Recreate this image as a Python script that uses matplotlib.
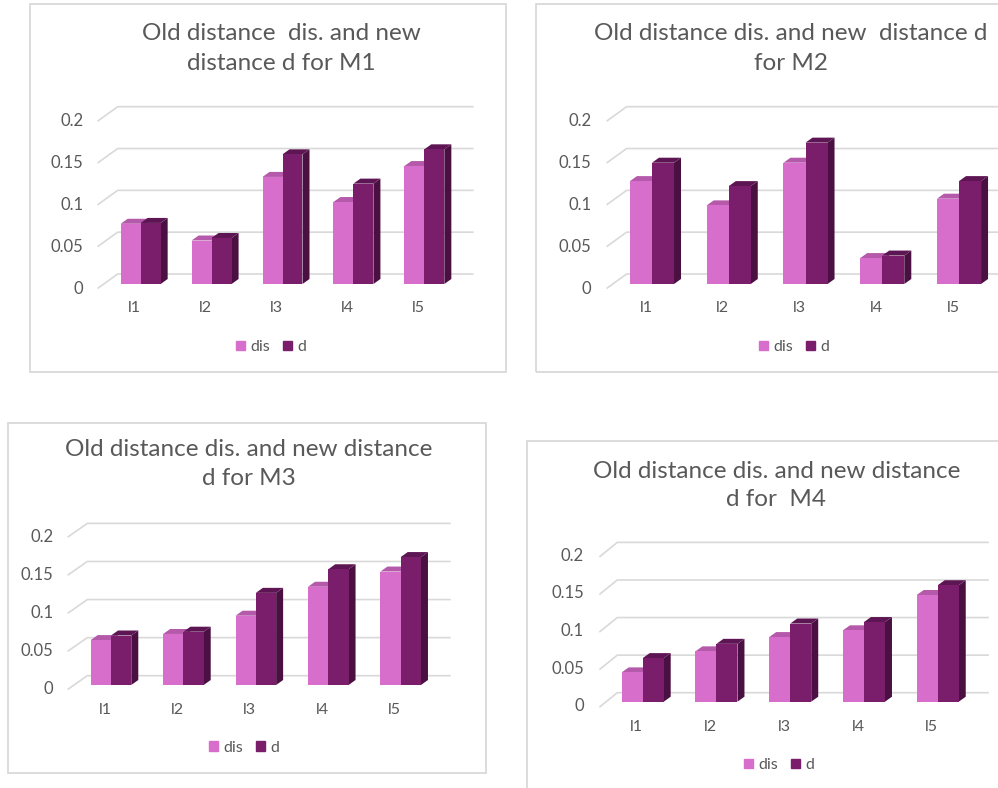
import matplotlib
matplotlib.use("Agg")
import matplotlib.pyplot as plt
from matplotlib.patches import Polygon, Rectangle
from matplotlib.transforms import ScaledTranslation
import numpy as np

plt.rcParams['font.family'] = ['Lato', 'DejaVu Sans']

# ---------------- data ----------------
categories = ['l1', 'l2', 'l3', 'l4', 'l5']
series_names = ['dis', 'd']
ytick_values = [0, 0.05, 0.1, 0.15, 0.2]
ytick_labels = ['0', '0.05', '0.1', '0.15', '0.2']

m1_dis = [0.072, 0.052, 0.128, 0.098, 0.141]
m1_d = [0.073, 0.055, 0.155, 0.120, 0.161]
m2_dis = [0.123, 0.094, 0.145, 0.031, 0.102]
m2_d = [0.145, 0.117, 0.169, 0.034, 0.123]
m3_dis = [0.059, 0.067, 0.091, 0.129, 0.149]
m3_d = [0.065, 0.070, 0.121, 0.152, 0.168]
m4_dis = [0.039, 0.067, 0.086, 0.095, 0.142]
m4_d = [0.058, 0.077, 0.104, 0.106, 0.155]

title_m1 = ['Old distance  dis. and new', 'distance d for M1']
title_m2 = ['Old distance dis. and new  distance d', 'for M2']
title_m3 = ['Old distance dis. and new distance', 'd for M3']
title_m4 = ['Old distance dis. and new distance', 'd for  M4']

# ---------------- style ----------------
W, H = 998, 788
TXT = '#595959'
GRID = '#d9d9d9'
DIS_COL = ('#D86ECC', '#B55AAB', '#9C4A92')   # front, top, side
D_COL = ('#7A1E6B', '#5E1553', '#4A1042')

fig = plt.figure(figsize=(W / 100, H / 100), dpi=100)
fig.patch.set_facecolor('white')


def fx(x):
    return x / W


def fy(y):
    return 1 - y / H


def panel_box(x0, y0, x1, y1):
    fig.add_artist(Rectangle((fx(x0), fy(y1)), (x1 - x0) / W, (y1 - y0) / H,
                             transform=fig.transFigure, fill=False,
                             edgecolor=GRID, lw=1.3))


def draw_panel(dis, d, title_lines, L):
    left, right, y0, hpx = L['ax']
    aw = right - left
    ax = fig.add_axes([fx(left), fy(y0), aw / W, hpx / H])
    ax.set_xlim(-0.5, len(categories) - 0.5)
    ax.set_ylim(0, 0.2)
    ax.patch.set_visible(False)
    for s in ax.spines.values():
        s.set_visible(False)

    # back wall grid + floor diagonals
    bx, by = L['wall']
    ffx, ffy = L['front']
    ex = L['wall_right']
    for v in ytick_values:
        va = v / 0.2
        ax.plot([ffx / aw, bx / aw, 1 + ex / aw],
                [va + ffy / hpx, va + by / hpx, va + by / hpx],
                transform=ax.transAxes, color=GRID, lw=1.2,
                clip_on=False, zorder=0.5)

    x = np.arange(len(categories))
    bw = L['bw']
    ddx = L['depth'][0] / aw * len(categories)
    ddy = L['depth'][1] / hpx * 0.2
    for k, (vals, off, cols) in enumerate([(dis, -bw / 2, DIS_COL), (d, bw / 2, D_COL)]):
        z = 2 + k
        bars = ax.bar(x + off, vals, width=bw, color=cols[0], lw=0, zorder=z + 0.2)
        for b in bars:
            x0, w, h = b.get_x(), b.get_width(), b.get_height()
            ax.add_patch(Polygon([(x0 + w, 0), (x0 + w + ddx, ddy),
                                  (x0 + w + ddx, h + ddy), (x0 + w, h)],
                                 closed=True, color=cols[2], lw=0, zorder=z))
            ax.add_patch(Polygon([(x0, h), (x0 + w, h),
                                  (x0 + w + ddx, h + ddy), (x0 + ddx, h + ddy)],
                                 closed=True, color=cols[1], lw=0, zorder=z + 0.1))

    ax.set_yticks(ytick_values, ytick_labels)
    ax.set_xticks(x, categories)
    ax.tick_params(axis='y', length=0, pad=L['ypad'] * 0.72, labelsize=12, labelcolor=TXT)
    ax.tick_params(axis='x', length=0, pad=L['xpad'] * 0.72, labelsize=11.5, labelcolor=TXT)
    for t in ax.get_yticklabels():
        t.set_transform(t.get_transform() + ScaledTranslation(0, -3 / 100, fig.dpi_scale_trans))
    for t in ax.get_xticklabels():
        t.set_transform(t.get_transform() + ScaledTranslation(-6 / 100, 0, fig.dpi_scale_trans))

    tx, ty1, ty2 = L['title']
    fig.text(fx(tx), fy(ty1), title_lines[0], ha='center', va='center', fontsize=17.5, color=TXT)
    fig.text(fx(tx), fy(ty2), title_lines[1], ha='center', va='center', fontsize=17.5, color=TXT)

    handles = [Rectangle((0, 0), 1, 1, color=DIS_COL[0]), Rectangle((0, 0), 1, 1, color=D_COL[0])]
    lx, ly = L['legend']
    fig.legend(handles, series_names, loc='center', bbox_to_anchor=(fx(lx), fy(ly)),
               ncol=2, frameon=False, fontsize=11.5, handlelength=0.55, handleheight=0.55,
               handletextpad=0.35, columnspacing=0.8, labelcolor=TXT, borderpad=0)


# panel frames
panel_box(30, 4.5, 505.5, 372)
panel_box(536, 4, 1010, 372)
panel_box(8, 422.7, 485.7, 773.3)
panel_box(527, 441, 1010, 800)

draw_panel(m1_dis, m1_d, title_m1, dict(
    ax=(105.2, 459.8, 284, 167.3), wall=(12.5, 10), front=(-7, -4), wall_right=13,
    bw=0.282, depth=(7, 5), ypad=22, xpad=17, title=(281, 33, 63), legend=(271, 347)))
draw_panel(m2_dis, m2_d, title_m2, dict(
    ax=(613.6, 997.4, 284, 167.3), wall=(13, 10), front=(-6.3, -4), wall_right=13,
    bw=0.287, depth=(7, 5), ypad=22, xpad=17, title=(791, 33, 63), legend=(794, 347)))
draw_panel(m3_dis, m3_d, title_m3, dict(
    ax=(74.8, 436.9, 685, 152.3), wall=(12.5, 9.3), front=(-6.5, -4), wall_right=13,
    bw=0.28, depth=(7, 5), ypad=21.5, xpad=18, title=(249, 450, 478.3), legend=(244, 747.7)))
draw_panel(m4_dis, m4_d, title_m4, dict(
    ax=(605.8, 974.6, 701.7, 150.3), wall=(11.5, 9), front=(-5.8, -5), wall_right=13.4,
    bw=0.285, depth=(7, 5), ypad=21.8, xpad=18, title=(776.4, 471, 500), legend=(779, 765)))

fig.savefig('out.png', dpi=100, facecolor='white')
